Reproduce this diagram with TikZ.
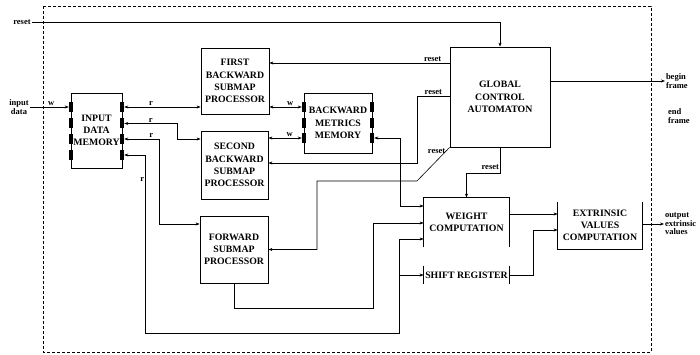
\documentclass[tikz,border=0pt]{standalone}
\usepackage{fontspec}
\setmainfont{Liberation Serif}
\usetikzlibrary{arrows.meta,calc}
\tikzset{
  unitbox/.style={draw, line width=0.8pt, align=center, inner sep=1pt,
    font=\fontsize{9.8}{12.2}\selectfont\bfseries},
  openbox/.style={unitbox, draw=none},
  unitport/.style={fill=black, draw=none, minimum width=4pt, minimum height=10pt, inner sep=0pt},
  sigline/.style={line width=0.6pt},
  sigarrow/.style={sigline, -{Stealth[length=4pt, width=3pt]}},
  sigboth/.style={sigline, {Stealth[length=4pt, width=3pt]}-{Stealth[length=4pt, width=3pt]}},
  siglabel/.style={font=\fontsize{8.5}{8.5}\selectfont\bfseries, align=center, inner sep=0.8pt},
}

\begin{document}
\begin{tikzpicture}[x=1pt, y=-1pt]
  \useasboundingbox (0,0) rectangle (700,355);
  % chip boundary
  \draw[line width=0.8pt, dash pattern=on 3pt off 2pt] (43,6) rectangle (651,352);
  % units
  \node[unitbox, minimum width=51pt, minimum height=75pt] (idm) at (96.5,130.5) {INPUT\\DATA\\MEMORY};
  \node[unitbox, minimum width=68pt, minimum height=66pt] (fbsp) at (235,81) {FIRST\\BACKWARD\\SUBMAP\\PROCESSOR};
  \node[unitbox, minimum width=67pt, minimum height=68pt] (sbsp) at (234.5,165) {SECOND\\BACKWARD\\SUBMAP\\PROCESSOR};
  \node[unitbox, minimum width=68pt, minimum height=67pt] (fsp) at (234,249.5) {FORWARD\\SUBMAP\\PROCESSOR};
  \node[unitbox, minimum width=68pt, minimum height=60pt] (bmm) at (338,123) {BACKWARD\\METRICS\\MEMORY};
  \node[unitbox, minimum width=100pt, minimum height=100pt] (gca) at (500,97) {GLOBAL\\CONTROL\\AUTOMATON};
  \node[openbox, minimum width=85pt, minimum height=49pt] (wc) at (466.5,222.5) {WEIGHT\\COMPUTATION};
  \node[openbox, minimum width=85pt, minimum height=18pt] (sr) at (466.5,275) {SHIFT REGISTER};
  \node[openbox, minimum width=84pt, minimum height=47pt] (evc) at (600,225.5) {EXTRINSIC\\VALUES\\COMPUTATION};
  % open outlines
  \draw[line width=0.8pt] (wc.south west) -- (wc.north west) -- (wc.north east) -- (wc.south east);
  \draw[line width=0.6pt] (sr.north west) -- (sr.south west) (sr.north east) -- (sr.south east);
  \draw[line width=0.8pt] (evc.north west) -- (evc.south west) -- (evc.south east) -- (evc.north east);
  % memory ports
  \foreach \i/\y in {1/107,2/123.5,3/139,4/155}{
    \node[unitport] (idmL\i) at (71,\y) {};
    \node[unitport] (idmR\i) at (122,\y) {};
  }
  \foreach \i/\y in {1/107,2/123,3/138}{
    \node[unitport] (bmmL\i) at (304,\y) {};
    \node[unitport] (bmmR\i) at (372,\y) {};
  }
  % external signals
  \node[siglabel] (lrst) at (22,22) {reset};
  \node[siglabel] (lin) at (19,107) {input\\data};
  \node[siglabel, anchor=west, align=left] (lbf) at (665,81) {begin\\frame};
  \node[siglabel, anchor=west, align=left] (lef) at (667,116) {end\\frame};
  \node[siglabel, anchor=west, align=left] (lout) at (664,224) {output\\extrinsic\\values};
  \draw[sigarrow] (lrst.east) -| (gca.north);
  \draw[sigarrow] (lin.east) -- node[siglabel, above, pos=0.55] (win) {w} (idmL1.west);
  \draw[sigarrow] (gca.east |- lbf.west) -- (lbf.west);
  \draw[sigarrow] (evc.east |- lout.west) -- (lout.west);
  % input data memory reads
  \draw[sigboth] (idmR1.east) -- node[siglabel, above, pos=0.35] (r1) {r} (fbsp.west |- idmR1);
  \draw[sigboth] (idmR2.east) -- node[siglabel, above, pos=0.5] (r2) {r} ++(53,0) |- (sbsp.west |- idmR3);
  \draw[sigboth] (idmR3.east) -- node[siglabel, above, pos=0.77] (r3) {r} ++(35,0) |- (fsp.west |- 0,224);
  \coordinate (j4) at (399,333);
  \draw[sigboth] (idmR4.east) -- ++(21,0) |- node[siglabel, left, pos=0.07] (r4) {r} (j4) |- (wc.west |- 0,239);
  \draw[sigarrow] (j4 |- sr.west) -- (sr.west);
  % backward metrics
  \draw[sigboth] (fbsp.east |- bmmL1) -- node[siglabel, above, pos=0.64] (w1) {w} (bmmL1.west);
  \draw[sigboth] (sbsp.east |- bmmL3) -- node[siglabel, above, pos=0.64] (w2) {w} (bmmL3.west);
  \draw[sigboth] (bmmR3.east) -| (400,206) -- (wc.west |- 0,206);
  \draw[sigarrow] (fsp.south) |- (373,308) |- (wc.west |- 0,223);
  % resets from the control automaton
  \draw[sigarrow] (gca.west |- 0,63) -- node[siglabel, above, pos=0.094] (rst1) {reset} (fbsp.east |- 0,63);
  \draw[sigarrow] (gca.west |- 0,96) -| node[siglabel, above, pos=0.25] (rst2) {reset} (417,163) -- (sbsp.east |- 0,163);
  \draw[sigarrow] (gca.south west) -- node[siglabel, left, pos=0.1] (rst3) {reset} (417,181) -- (317,181) |- (fsp.east);
  \draw[sigarrow] (gca.south) -- node[siglabel, left, pos=0.75] (rst4) {reset} ++(0,26) -| (wc.north);
  % extrinsic values
  \draw[sigarrow] (wc.east |- 0,214) -- (evc.west |- 0,214);
  \draw[sigarrow] (sr.east) -| (533,230) -- (evc.west |- 0,230);
\end{tikzpicture}
\end{document}
